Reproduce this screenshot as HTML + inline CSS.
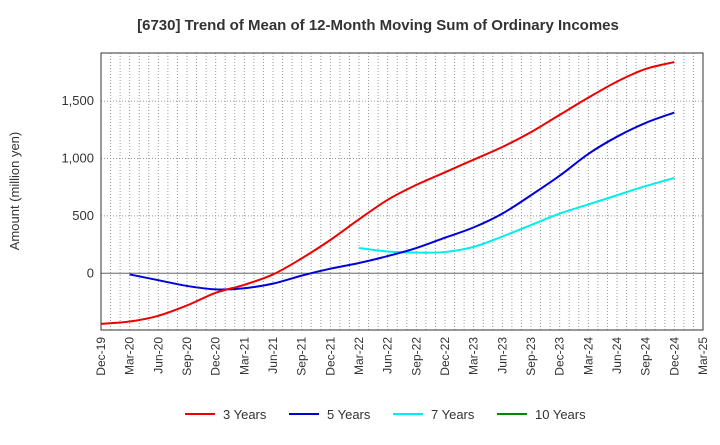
<!DOCTYPE html>
<html><head><meta charset="utf-8"><style>
body{margin:0;background:#fff;font-family:"Liberation Sans",sans-serif}
svg text{font-family:"Liberation Sans",sans-serif}
</style></head><body>
<svg width="720" height="440" id="c">
<text x="378" y="30" font-size="15" font-weight="bold" text-anchor="middle" fill="#333">[6730]  Trend of Mean of 12-Month Moving Sum of Ordinary Incomes</text>
<text transform="translate(19,191) rotate(-90)" font-size="13" text-anchor="middle" fill="#333">Amount (million yen)</text>
<g id="grid"></g><g id="series"></g><g id="axes"></g>
<g font-size="13" fill="#333">
<line x1="185" y1="414" x2="215" y2="414" stroke="#e00" stroke-width="2"/><text x="223" y="419">3 Years</text>
<line x1="289" y1="414" x2="319" y2="414" stroke="#00d" stroke-width="2"/><text x="327" y="419">5 Years</text>
<line x1="393" y1="414" x2="423" y2="414" stroke="#0ee" stroke-width="2"/><text x="431" y="419">7 Years</text>
<line x1="497" y1="414" x2="527" y2="414" stroke="#080" stroke-width="2"/><text x="535" y="419">10 Years</text>
</g>
</svg>
<script>
const xLabels=["Dec-19","Mar-20","Jun-20","Sep-20","Dec-20","Mar-21","Jun-21","Sep-21","Dec-21","Mar-22","Jun-22","Sep-22","Dec-22","Mar-23","Jun-23","Sep-23","Dec-23","Mar-24","Jun-24","Sep-24","Dec-24","Mar-25"];
const yTicks=[0,500,1000,1500];
const yTickLabels=["0","500","1,000","1,500"];
const s3=[-440,-420,-370,-280,-170,-100,-10,130,290,470,640,770,880,990,1100,1230,1380,1530,1670,1780,1840];
const s5=[null,-10,-60,-110,-140,-130,-90,-20,40,90,150,220,310,400,520,680,850,1040,1190,1310,1400];
const s7=[null,null,null,null,null,null,null,null,null,220,190,180,185,230,320,420,520,600,680,760,830];
const L=101,R=703,T=53,B=330;
const X=i=>L+(R-L)*i/21;
const Y=v=>273.3-v*57.4/500;
const NS="http://www.w3.org/2000/svg";
function mk(p,t,a){const e=document.createElementNS(NS,t);for(const k in a)e.setAttribute(k,a[k]);p.appendChild(e);return e;}
const g=document.getElementById('grid'),ax=document.getElementById('axes'),sg=document.getElementById('series');
for(let m=1;m<63;m++){const x=L+(R-L)*m/63;const l=mk(g,'line',{x1:x,x2:x,y1:T,y2:B,stroke:'#999','stroke-dasharray':'1,2','stroke-width':1});

}
yTicks.forEach((v,i)=>{const l=mk(g,'line',{x1:L,x2:R,y1:Y(v),y2:Y(v),stroke:v===0?'#666':'#999','stroke-dasharray':v===0?'none':'1,2'});


const t=mk(ax,'text',{x:L-7,y:Y(v)+4,'font-size':13,'text-anchor':'end',fill:'#333'});t.textContent=yTickLabels[i];

});
const fr=mk(ax,'rect',{x:L,y:T,width:R-L,height:B-T,fill:'none',stroke:'#333'});


xLabels.forEach((s,i)=>{const t=mk(ax,'text',{transform:`translate(${X(i)+4},${B+7}) rotate(-90)`,'font-size':12,'text-anchor':'end',fill:'#333'});t.textContent=s;

});
function path(arr){const p=[];arr.forEach((v,i)=>{if(v!==null)p.push([X(i),Y(v)]);});
let d=`M${p[0][0]},${p[0][1]}`;for(let i=0;i<p.length-1;i++){const p0=p[Math.max(0,i-1)],p1=p[i],p2=p[i+1],p3=p[Math.min(p.length-1,i+2)];
d+=` C${p1[0]+(p2[0]-p0[0])/6},${p1[1]+(p2[1]-p0[1])/6} ${p2[0]-(p3[0]-p1[0])/6},${p2[1]-(p3[1]-p1[1])/6} ${p2[0]},${p2[1]}`;}return d;}
[[s7,'#0ee','series-7-years'],[s5,'#00d','series-5-years'],[s3,'#e00','series-3-years']].forEach(([a,c,n])=>{const e=mk(sg,'path',{d:path(a),fill:'none',stroke:c,'stroke-width':2});

});
</script>
</body></html>
